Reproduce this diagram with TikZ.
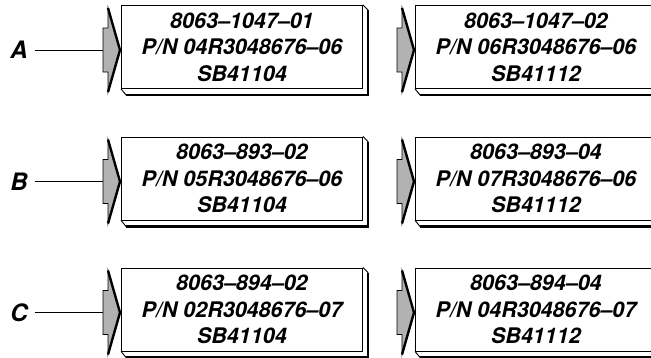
\documentclass[tikz,border=0pt]{standalone}
\usepackage{fontspec}
\setmainfont{TeX Gyre Heros}
\usetikzlibrary{calc}
\tikzset{
  face/.style={draw, line width=0.9pt, fill=white, minimum width=241pt, minimum height=83pt,
    inner sep=0pt, anchor=north west, align=center,
    font=\fontsize{21.5}{26.5}\selectfont\bfseries\itshape},
  lbl/.style={font=\fontsize{24}{28}\selectfont\bfseries\itshape, inner sep=0pt},
  thinline/.style={line width=0.9pt},
  thickline/.style={line width=2.2pt},
  chevron/.style={line width=2.4pt},
  arrowfill/.style={fill=black!30, draw, line width=0.9pt},
}
\newcommand\partbox[4]{%
  \node[face] (#1) at (#2,#3) {#4};
  \draw[thinline] (#1.south west) -- ($(#1.south west)+(5,6)$)
     -- ($(#1.south east)+(5,6)$) -- ($(#1.north east)+(5,5)$) -- (#1.north east);
  \draw[thickline] ($(#1.south west)+(5,6)$) -- ($(#1.south east)+(5,6)$)
     -- ($(#1.north east)+(5,5)$);
  \begin{scope}[shift={(#1.north west)}]
    \draw[arrowfill] (-18,23) -- (-13,23) -- (-13,3) -- (-1,45) -- (-13,87)
       -- (-13,67) -- (-18,67) -- cycle;
    \draw[chevron] (-13,3) -- (-1,45) -- (-13,87);
    \coordinate (#1-in) at (-18,45);
  \end{scope}
}
\begin{document}
\begin{tikzpicture}[x=1pt,y=-1pt]
  \clip (0,0) rectangle (651,357);
  \fill[white] (0,0) rectangle (651,357);
  \partbox{a1}{121}{5}{8063--1047--01\\P/N 04R3048676--06\\SB41104}
  \partbox{a2}{415}{5}{8063--1047--02\\P/N 06R3048676--06\\SB41112}
  \partbox{b1}{121}{136.5}{8063--893--02\\P/N 05R3048676--06\\SB41104}
  \partbox{b2}{415}{136.5}{8063--893--04\\P/N 07R3048676--06\\SB41112}
  \partbox{c1}{121}{267.5}{8063--894--02\\P/N 02R3048676--07\\SB41104}
  \partbox{c2}{415}{267.5}{8063--894--04\\P/N 04R3048676--07\\SB41112}
  \node[lbl] (la) at (19,50) {A};
  \node[lbl] (lb) at (19,181.5) {B};
  \node[lbl] (lc) at (19,312.5) {C};
  \draw[thinline, shorten <=7pt] (la.east) -- (a1-in);
  \draw[thinline, shorten <=7pt] (lb.east) -- (b1-in);
  \draw[thinline, shorten <=7pt] (lc.east) -- (c1-in);
\end{tikzpicture}
\end{document}
